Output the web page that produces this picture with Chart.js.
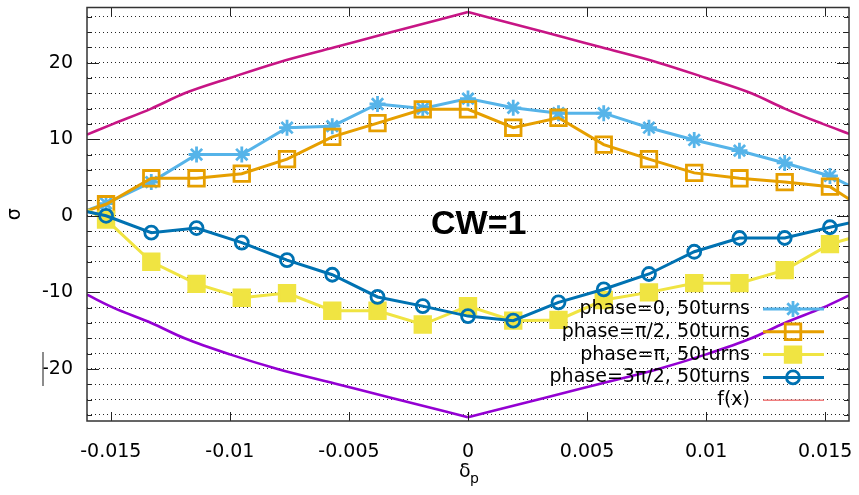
<!DOCTYPE html>
<html>
<head>
<meta charset="utf-8">
<script src="https://cdn.jsdelivr.net/npm/chart.js@4.4.1/dist/chart.umd.min.js"></script>
<style>
  html, body { margin: 0; padding: 0; background: #fff; }
  #wrap { width: 859px; height: 495px; position: relative; }
</style>
</head>
<body>
<div id="wrap"><canvas id="sigma-chart"></canvas></div>
<script>
// δp of the tracked particles (outermost pair sits just past the plotted range)
const deltaP = [-0.0171, -0.0152, -0.0133, -0.0114, -0.0095, -0.0076, -0.0057, -0.0038, -0.0019, 0,
                0.0019, 0.0038, 0.0057, 0.0076, 0.0095, 0.0114, 0.0133, 0.0152, 0.0171];

// σ after 50 turns, one list per starting phase
const sigmaPhase0     = [-0.5, 1.6, 4.4, 8.0, 8.0, 11.5, 11.7, 14.6, 14.0, 15.3, 14.1, 13.4, 13.4, 11.5, 9.9, 8.5, 6.9, 5.2, 2.3];
const sigmaPhaseHalf  = [-0.5, 1.5, 4.9, 4.9, 5.5, 7.4, 10.3, 12.1, 13.9, 13.9, 11.5, 12.8, 9.3, 7.4, 5.6, 4.9, 4.4, 3.8, 0.0];
const sigmaPhasePi    = [2.5, -0.5, -6.0, -8.9, -10.7, -10.1, -12.4, -12.4, -14.2, -11.8, -13.7, -13.6, -11.0, -10.0, -8.8, -8.8, -7.1, -3.7, -2.0];
const sigmaPhase3Half = [1.3, 0.0, -2.2, -1.6, -3.5, -5.8, -7.7, -10.6, -11.8, -13.1, -13.7, -11.3, -9.6, -7.6, -4.7, -2.9, -2.9, -1.5, -0.2];

// envelope f(x), upper and lower branch (peak at δp = 0)
const fX     = [-0.016, -0.0149, -0.0133, -0.0119, -0.0100, -0.0080, -0.0056, -0.0032, 0,
                0.0032, 0.0056, 0.0080, 0.0100, 0.0119, 0.0133, 0.0149, 0.016];
const fUpper = [10.6, 12.0, 14.0, 16.0, 18.0, 20.0, 22.0, 24.0, 26.6, 24.0, 22.0, 20.0, 18.0, 16.0, 14.0, 12.0, 10.7];
const fLower = [-10.3, -12.0, -14.0, -16.0, -18.1, -20.0, -21.9, -23.8, -26.3, -23.8, -21.9, -20.0, -18.1, -16.0, -14.0, -12.0, -10.4];

const seriesLabels = ['phase=0, 50turns', 'phase=π/2, 50turns', 'phase=π, 50turns', 'phase=3π/2, 50turns', 'f(x)'];

const xTicks = [-0.015, -0.01, -0.005, 0, 0.005, 0.01, 0.015];
const yGrid = [-26, -24, -22, -20, -18, -16, -14, -12, -10, -8, -6, -4, -2, 0, 2, 4, 6, 8, 10, 12, 14, 16, 18, 20, 22, 24, 26];
const yLabelled = [-20, -10, 0, 10, 20];

const FONT = '"DejaVu Sans", sans-serif';

const pts = (xs, ys) => xs.map((x, i) => ({ x: x, y: ys[i] }));

const styles = [
    { color: '#56b4e9', pointStyle: 'star',   radius: 8,   fill: false, width: 3 },
    { color: '#e69f00', pointStyle: 'rect',   radius: 11,  fill: false, width: 3 },
    { color: '#f0e442', pointStyle: 'rect',   radius: 11,  fill: true,  width: 3 },
    { color: '#0072b2', pointStyle: 'circle', radius: 6.5, fill: false, width: 3 },
];

function seriesDataset(label, ys, st, order) {
    return {
        label: label,
        data: pts(deltaP, ys),
        borderColor: st.color,
        backgroundColor: st.fill ? st.color : 'rgba(0,0,0,0)',
        borderWidth: st.width,
        pointStyle: st.pointStyle,
        pointRadius: st.radius,
        pointBorderWidth: 2.8,
        pointBorderColor: st.color,
        pointBackgroundColor: st.fill ? st.color : 'rgba(0,0,0,0)',
        tension: 0,
        clip: 0,
        order: order,
    };
}

// each branch of f(x) is drawn as two monotone halves so the peak stays sharp
const peak = fX.indexOf(0);
function envelopeHalf(ys, from, to, color, order) {
    return {
        label: 'f(x)',
        data: pts(fX.slice(from, to), ys.slice(from, to)),
        borderColor: color,
        borderWidth: 2.6,
        pointRadius: 0,
        cubicInterpolationMode: 'monotone',
        clip: 0,
        order: order,
    };
}

// frame, inward tick marks, key and text labels
const decorations = {
    id: 'decorations',
    afterDatasetsDraw(chart) {
        const { ctx, chartArea: a, scales: { x, y } } = chart;
        ctx.save();

        ctx.strokeStyle = '#222';
        ctx.lineWidth = 1;
        ctx.beginPath();
        xTicks.forEach(v => {
            const px = Math.round(x.getPixelForValue(v)) + 0.5;
            ctx.moveTo(px, a.bottom); ctx.lineTo(px, a.bottom - 9);
            ctx.moveTo(px, a.top);    ctx.lineTo(px, a.top + 9);
        });
        yGrid.forEach(v => {
            const py = Math.round(y.getPixelForValue(v)) + 0.5;
            const len = yLabelled.includes(v) ? 12 : 5;
            ctx.moveTo(a.left, py);  ctx.lineTo(a.left + len, py);
            ctx.moveTo(a.right, py); ctx.lineTo(a.right - len, py);
        });
        ctx.stroke();

        ctx.strokeStyle = '#333';
        ctx.lineWidth = 1.5;
        ctx.strokeRect(a.left, a.top, a.right - a.left, a.bottom - a.top);

        // stray bar beside the -20 label
        ctx.strokeStyle = '#666';
        ctx.lineWidth = 1.5;
        ctx.beginPath();
        ctx.moveTo(43, 352); ctx.lineTo(43, 386);
        ctx.stroke();

        ctx.fillStyle = '#000';
        ctx.font = 'bold 34px "Liberation Sans", Arial, sans-serif';
        ctx.textAlign = 'left';
        ctx.textBaseline = 'middle';
        ctx.fillText('CW=1', 431, 225);

        // key
        const keyText = a.right - 99, lineL = a.right - 86, lineR = a.right - 25, mark = a.right - 56;
        ctx.font = '19px ' + FONT;
        ctx.textAlign = 'right';
        seriesLabels.forEach((label, i) => {
            const yy = 309 + i * 22.8;
            ctx.fillStyle = '#000';
            ctx.fillText(label, keyText, yy);
            const st = styles[i];
            ctx.beginPath();
            if (st) {
                ctx.strokeStyle = st.color;
                ctx.lineWidth = st.width;
            } else {
                ctx.strokeStyle = '#f08080';
                ctx.lineWidth = 1.5;
            }
            ctx.moveTo(lineL, yy); ctx.lineTo(lineR, yy);
            ctx.stroke();
            if (st) {
                ctx.fillStyle = st.fill ? st.color : 'rgba(0,0,0,0)';
                ctx.lineWidth = 2.8;
                Chart.helpers.drawPoint(ctx, { pointStyle: st.pointStyle, radius: st.radius, borderWidth: 2.8, rotation: 0 }, mark, yy);
            }
        });

        // x axis title with subscript
        ctx.fillStyle = '#000';
        ctx.textAlign = 'left';
        ctx.textBaseline = 'alphabetic';
        ctx.font = '19px ' + FONT;
        ctx.fillText('δ', 459, 477);
        ctx.font = '14px ' + FONT;
        ctx.fillText('p', 470, 483);

        ctx.restore();
    }
};

// keep the plot box exactly where the axes put it
const noOverflow = s => { s.paddingLeft = 0; s.paddingRight = 0; s.paddingTop = 0; s.paddingBottom = 0; };

new Chart(document.getElementById('sigma-chart'), {
    type: 'line',
    data: {
        datasets: [
            seriesDataset(seriesLabels[0], sigmaPhase0, styles[0], 8),
            seriesDataset(seriesLabels[1], sigmaPhaseHalf, styles[1], 7),
            seriesDataset(seriesLabels[2], sigmaPhasePi, styles[2], 6),
            seriesDataset(seriesLabels[3], sigmaPhase3Half, styles[3], 5),
            envelopeHalf(fUpper, 0, peak + 1, '#c71585', 4),
            envelopeHalf(fUpper, peak, fX.length, '#c71585', 3),
            envelopeHalf(fLower, 0, peak + 1, '#9400d3', 2),
            envelopeHalf(fLower, peak, fX.length, '#9400d3', 1),
        ]
    },
    options: {
        responsive: true,
        maintainAspectRatio: false,
        animation: false,
        layout: { autoPadding: false, padding: { left: 0, right: 10, top: 7.5, bottom: 0 } },
        plugins: {
            legend: { display: false },
            tooltip: { enabled: false },
        },
        scales: {
            x: {
                type: 'linear',
                min: -0.016,
                max: 0.016,
                afterBuildTicks: s => { s.ticks = xTicks.map(v => ({ value: v })); },
                afterFit: s => { s.height = 74; noOverflow(s); },
                grid: { display: false },
                border: { display: false },
                ticks: {
                    autoSkip: false,
                    maxRotation: 0,
                    padding: 12,
                    color: '#000',
                    font: { family: FONT, size: 19 },
                    callback: v => String(v),
                },
            },
            y: {
                type: 'linear',
                min: -26.8,
                max: 27.2,
                afterBuildTicks: s => { s.ticks = yGrid.map(v => ({ value: v })); },
                afterFit: s => { s.width = 87; noOverflow(s); },
                grid: { color: 'rgba(0,0,0,0.85)', lineWidth: 1, drawTicks: false },
                border: { display: false, dash: [1, 3] },
                title: {
                    display: true,
                    text: 'σ',
                    color: '#000',
                    padding: 4,
                    font: { family: FONT, size: 19 },
                },
                ticks: {
                    autoSkip: false,
                    padding: 14,
                    color: '#000',
                    font: { family: FONT, size: 19 },
                    callback: v => yLabelled.includes(v) ? String(v) : '',
                },
            },
        },
    },
    plugins: [decorations],
});
</script>
</body>
</html>
